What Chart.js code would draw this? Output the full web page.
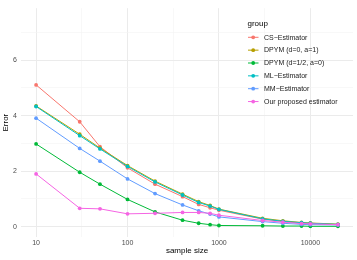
<!DOCTYPE html>
<html>
<head>
<meta charset="utf-8">
<script src="https://cdn.jsdelivr.net/npm/chart.js@4/dist/chart.umd.min.js"></script>
<style>
  html, body { margin: 0; padding: 0; background: #fff; }
  #wrap { width: 357px; height: 260px; }
</style>
</head>
<body>
<div id="wrap"><canvas id="grafico" width="357" height="260"></canvas></div>
<script>
// dados
const tamanhos = [10, 30, 50, 100, 200, 400, 600, 800, 1000, 3000, 5000, 8000, 10000, 20000];
const grupos = ["CS\u2212Estimator", "DPYM (d=0, a=1)", "DPYM (d=1/2, a=0)", "ML\u2212Estimator", "MM\u2212Estimator", "Our proposed estimator"];
const csEst = [5.11, 3.78, 2.88, 2.12, 1.53, 1.08, 0.80, 0.68, 0.59, 0.27, 0.18, 0.12, 0.11, 0.07];
const dpymZero = [4.35, 3.33, 2.83, 2.20, 1.64, 1.17, 0.90, 0.76, 0.63, 0.30, 0.21, 0.15, 0.13, 0.09];
const dpymMeio = [2.98, 1.96, 1.53, 0.98, 0.53, 0.23, 0.12, 0.07, 0.04, 0.03, 0.02, 0.02, 0.01, 0.01];
const mlEst = [4.33, 3.28, 2.80, 2.17, 1.61, 1.14, 0.87, 0.74, 0.62, 0.28, 0.19, 0.14, 0.12, 0.08];
const mmEst = [3.91, 2.82, 2.36, 1.72, 1.19, 0.78, 0.57, 0.45, 0.35, 0.18, 0.12, 0.08, 0.07, 0.06];
const nosso = [1.90, 0.66, 0.64, 0.46, 0.48, 0.51, 0.51, 0.48, 0.41, 0.22, 0.16, 0.11, 0.10, 0.07];
const xTicks = [10, 100, 1000, 10000];
const yTicks = [0, 2, 4, 6];

const series = [csEst, dpymZero, dpymMeio, mlEst, mmEst, nosso];
const cores = ["#F8766D", "#B79F00", "#00BA38", "#00BFC4", "#619CFF", "#F564E3"];
const fonte = "'Liberation Sans', Arial, sans-serif";

const datasets = series.map((valores, i) => ({
    label: grupos[i],
    data: valores.map((v, j) => ({x: tamanhos[j], y: v})),
    borderColor: cores[i],
    backgroundColor: cores[i],
    borderWidth: 1,
    pointRadius: 1.9,
    pointBorderWidth: 0,
    order: series.length - i
}));

// legenda desenhada dentro do painel, como no ggplot
const legendaDentro = {
    id: "legendaDentro",
    afterDraw(chart) {
        const ctx = chart.ctx;
        ctx.save();
        ctx.textBaseline = "middle";
        ctx.textAlign = "left";
        ctx.fillStyle = "#000";
        ctx.font = "8px " + fonte;
        ctx.fillText("group", 247.5, 24);
        ctx.font = "7px " + fonte;
        chart.data.datasets.forEach((ds, i) => {
            const y = 37.3 + i * 12.85;
            ctx.strokeStyle = ds.borderColor;
            ctx.lineWidth = 1;
            ctx.beginPath();
            ctx.moveTo(248, y);
            ctx.lineTo(258.5, y);
            ctx.stroke();
            ctx.fillStyle = ds.borderColor;
            ctx.beginPath();
            ctx.arc(253.2, y, 1.9, 0, Math.PI * 2);
            ctx.fill();
            ctx.fillStyle = "#1A1A1A";
            ctx.fillText(ds.label, 264, y + 0.3);
        });
        ctx.restore();
    }
};

const corGrade = (ctx) => ctx.tick && ctx.tick.major ? "#EBEBEB" : "#F4F4F4";

new Chart(document.getElementById("grafico"), {
    type: "line",
    data: { datasets: datasets },
    options: {
        responsive: false,
        animation: false,
        layout: { padding: { top: 3.5, right: 4, left: 0, bottom: 0 } },
        plugins: { legend: { display: false }, tooltip: { enabled: false } },
        scales: {
            x: {
                type: "logarithmic",
                min: Math.pow(10, 0.835),
                max: Math.pow(10, 4.466),
                afterBuildTicks: (scale) => {
                    const t = [];
                    xTicks.forEach(v => {
                        t.push({value: v, major: true});
                        const m = v * Math.sqrt(10);
                        if (m < scale.max) t.push({value: m, major: false});
                    });
                    scale.ticks = t;
                },
                afterFit: (scale) => { scale.height = 23; },
                border: { display: false },
                grid: { color: corGrade, lineWidth: (c) => c.tick && c.tick.major ? 1 : 0.6, drawTicks: false },
                ticks: {
                    color: "#4D4D4D",
                    font: { family: fonte, size: 7 },
                    padding: 2,
                    maxRotation: 0,
                    autoSkip: false,
                    callback: function(value, index, ticks) { return ticks[index].major ? String(value) : ""; }
                },
                title: { display: true, text: "sample size", color: "#000", font: { family: fonte, size: 8 }, padding: { top: 0, bottom: 4.5 } }
            },
            y: {
                type: "linear",
                min: -0.375,
                max: 7.875,
                afterBuildTicks: (scale) => {
                    const t = [];
                    yTicks.forEach(v => {
                        t.push({value: v, major: true});
                        t.push({value: v + 1, major: false});
                    });
                    scale.ticks = t;
                },
                afterFit: (scale) => { scale.width = 21; },
                border: { display: false },
                grid: { color: corGrade, lineWidth: (c) => c.tick && c.tick.major ? 1 : 0.6, drawTicks: false },
                ticks: {
                    color: "#4D4D4D",
                    font: { family: fonte, size: 7 },
                    padding: 4,
                    autoSkip: false,
                    callback: function(value, index, ticks) { return ticks[index].major ? String(value) : ""; }
                },
                title: { display: true, text: "Error", color: "#000", font: { family: fonte, size: 8 }, padding: { top: 1, bottom: 0 } }
            }
        }
    },
    plugins: [legendaDentro]
});
</script>
</body>
</html>
